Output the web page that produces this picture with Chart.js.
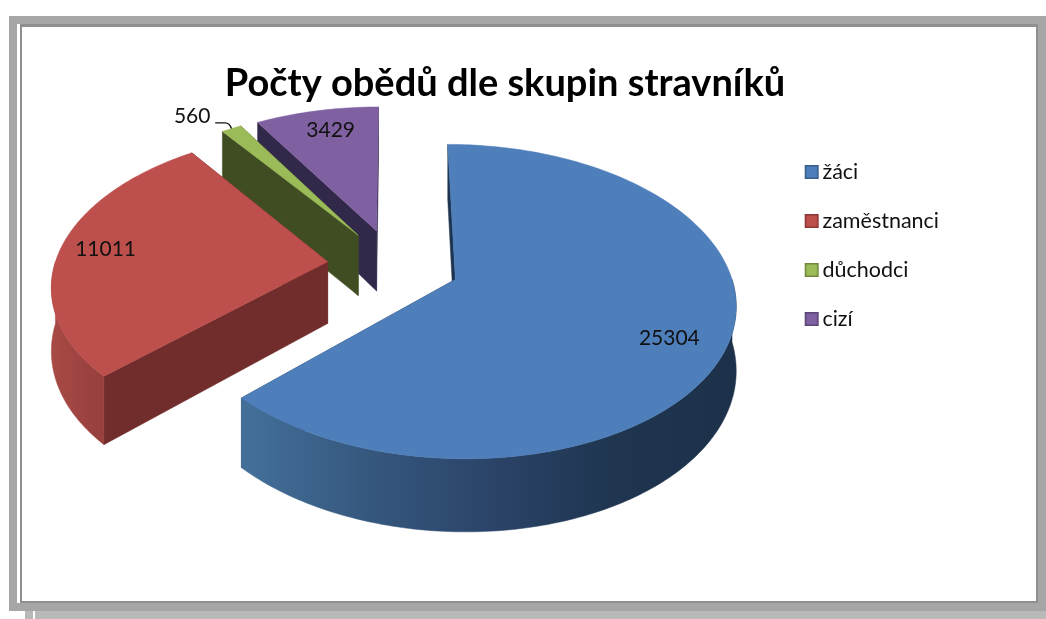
<!DOCTYPE html>
<html>
<head>
<meta charset="utf-8">
<script src="https://cdn.jsdelivr.net/npm/chart.js@4"></script>
<style>
html, body { margin: 0; padding: 0; background: #fff; overflow: hidden; }
#page { position: relative; width: 1046px; height: 619px; }
#page div { position: absolute; }
canvas { position: absolute; left: 0; top: 0; }
</style>
</head>
<body>
<div id="page">
  <div style="left:25px;top:611px;width:8px;height:8px;background:#b9b9b9"></div>
  <div style="left:35px;top:611px;width:1011px;height:8px;background:#b9b9b9"></div>
  <div style="left:9px;top:16px;width:1037px;height:595px;background:#a6a6a6"></div>
  <div style="left:17px;top:24px;width:3px;height:579px;background:#fff"></div>
  <div style="left:20px;top:24px;width:1018px;height:579px;background:#8f8f8f"></div>
  <div style="left:22px;top:27px;width:1014px;height:574px;background:#fff"></div>
  <canvas id="pie" width="1046" height="619"></canvas>
</div>
<script>
var titleText = "Počty obědů dle skupin stravníků";
var categories = ["žáci", "zaměstnanci", "důchodci", "cizí"];
var obedy = [25304, 11011, 560, 3429];
var explode = [24.3, 24.3, 24.3, 24.3];

var topColors = ["#4e7fbb", "#bd4f4c", "#9bbb59", "#7f60a0"];
var legendBorders = ["#385d8a", "#8c3836", "#71893f", "#5c4776"];
var cutColors = ["#1c3450", "#702d2b", "#404d22", "#32284a"];
var wallStops = [
    ["#437099", "#36587f", "#2b4469", "#1f3550", "#1c3049"],
    ["#a84a46", "#963f3b"],
    ["#71893f", "#5c7030"],
    ["#5c4776", "#4a3860"]
];
// posun popisku po polomeru a doladeni v pixelech
var labelReach = [0.8, 0.8, 1.32, 0.87];
var labelNudge = [[-2, 8], [-8, -2], [-4, 17], [7, 5]];

// kamera: stred kolace na strance, polomery, perspektiva, vyska valce
var cam = { x: 393.5, y: 265, rx: 273, ry: 150, persp: 0.139, depth: 62 };

function project(u, v, z) {
    var w = 1 / (1 - cam.persp * v);
    return { x: cam.x + cam.rx * u * w, y: cam.y + cam.ry * v * w + (z ? cam.depth * w : 0) };
}

function sliceGeom(arc) {
    var mid = (arc.startAngle + arc.endAngle) / 2;
    var d = arc.options.offset / arc.outerRadius;
    return { a0: arc.startAngle, a1: arc.endAngle, mid: mid, du: d * Math.cos(mid), dv: d * Math.sin(mid) };
}

function rimPoint(g, a, z, reach) {
    var r = reach === undefined ? 1 : reach;
    return project(g.du + r * Math.cos(a), g.dv + r * Math.sin(a), z);
}

function fillPoly(ctx, pts, color) {
    ctx.beginPath();
    pts.forEach(function (p, i) {
        if (i === 0) ctx.moveTo(p.x, p.y); else ctx.lineTo(p.x, p.y);
    });
    ctx.closePath();
    ctx.fillStyle = color;
    ctx.fill();
    ctx.strokeStyle = color;
    ctx.lineWidth = 0.5;
    ctx.stroke();
}

function cutFace(ctx, g, a, color) {
    fillPoly(ctx, [rimPoint(g, 0, false, 0), rimPoint(g, a, false), rimPoint(g, a, true), rimPoint(g, 0, true, 0)], color);
}

function drawSlice(ctx, arc, i) {
    var g = sliceGeom(arc);
    var step = Math.PI / 180;
    var a;

    cutFace(ctx, g, g.a0, cutColors[i]);
    cutFace(ctx, g, g.a1, cutColors[i]);

    // vnejsi plast jen tam, kde miri k divakovi
    var from = Math.max(g.a0, 0);
    var to = Math.min(g.a1, Math.PI);
    if (to > from) {
        var upper = [], lower = [];
        for (a = from; a < to; a += step) {
            upper.push(rimPoint(g, a, false));
            lower.unshift(rimPoint(g, a, true));
        }
        upper.push(rimPoint(g, to, false));
        lower.unshift(rimPoint(g, to, true));
        var xs = upper.map(function (p) { return p.x; });
        var grad = ctx.createLinearGradient(Math.min.apply(null, xs), 0, Math.max.apply(null, xs), 0);
        wallStops[i].forEach(function (c, k, list) { grad.addColorStop(k / (list.length - 1), c); });
        fillPoly(ctx, upper.concat(lower), grad);
    }

    var face = [rimPoint(g, 0, false, 0)];
    for (a = g.a0; a < g.a1; a += step) face.push(rimPoint(g, a, false));
    face.push(rimPoint(g, g.a1, false));
    fillPoly(ctx, face, topColors[i]);
}

var pie3d = {
    id: "pie3d",
    beforeDatasetsDraw: function (chart) {
        var ctx = chart.ctx;
        var arcs = chart.getDatasetMeta(0).data;
        ctx.save();
        [3, 2, 1, 0].forEach(function (i) { drawSlice(ctx, arcs[i], i); });
        ctx.restore();
        return false;
    },
    afterDraw: function (chart) {
        var ctx = chart.ctx;
        var arcs = chart.getDatasetMeta(0).data;
        ctx.save();
        ctx.font = "21px Lato";
        ctx.fillStyle = "#111";
        ctx.textAlign = "center";
        ctx.textBaseline = "middle";
        arcs.forEach(function (arc, i) {
            var g = sliceGeom(arc);
            var p = rimPoint(g, g.mid, false, labelReach[i]);
            var lx = p.x + labelNudge[i][0];
            var ly = p.y + labelNudge[i][1];
            ctx.fillText(String(obedy[i]), lx, ly);
            if (i === 2) {
                // vodici carka k male vysece
                var rim = rimPoint(g, g.mid, false);
                ctx.beginPath();
                ctx.moveTo(lx + 23, ly + 7);
                ctx.lineTo(lx + 33, ly + 7);
                ctx.quadraticCurveTo(rim.x - 2, ly + 7, rim.x, rim.y);
                ctx.strokeStyle = "#111";
                ctx.lineWidth = 1.4;
                ctx.stroke();
            }
        });
        ctx.restore();
    }
};

function legendSwatch(i) {
    var c = document.createElement("canvas");
    c.width = 27;
    c.height = 14;
    var x = c.getContext("2d");
    x.fillStyle = topColors[i];
    x.strokeStyle = legendBorders[i];
    x.lineWidth = 1.5;
    x.fillRect(10, 0, 14, 14);
    x.strokeRect(10.75, 0.75, 12.5, 12.5);
    return c;
}

new Chart("pie", {
    type: "pie",
    data: {
        labels: categories,
        datasets: [{
            data: obedy,
            backgroundColor: topColors,
            offset: explode,
            borderWidth: 0
        }]
    },
    plugins: [pie3d],
    options: {
        responsive: false,
        animation: false,
        events: [],
        radius: 100,
        layout: { padding: { left: 61, right: 97, top: 61, bottom: 189 } },
        plugins: {
            tooltip: { enabled: false },
            title: {
                display: true,
                text: titleText,
                color: "#000",
                font: { family: "Lato", size: 38, weight: "bold" },
                padding: { top: 0, bottom: 0 }
            },
            legend: {
                position: "right",
                labels: {
                    usePointStyle: true,
                    pointStyleWidth: 7,
                    color: "#111",
                    font: { family: "Lato", size: 21.5 },
                    padding: 27.5,
                    generateLabels: function (chart) {
                        return chart.data.labels.map(function (text, i) {
                            return {
                                text: text,
                                index: i,
                                pointStyle: legendSwatch(i),
                                fillStyle: topColors[i],
                                strokeStyle: legendBorders[i],
                                lineWidth: 0,
                                hidden: false,
                                fontColor: "#111"
                            };
                        });
                    }
                }
            }
        }
    }
});
</script>
</body>
</html>
